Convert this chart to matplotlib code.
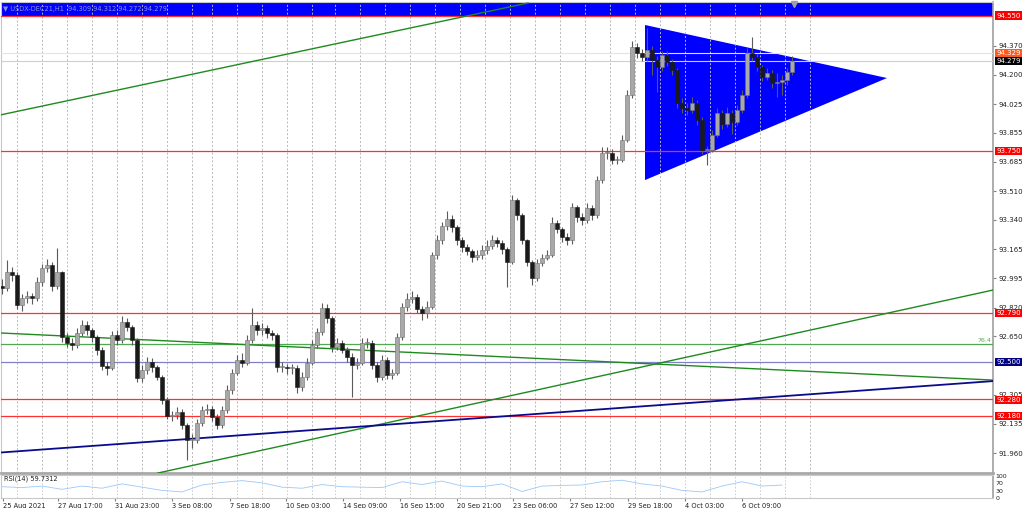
import numpy as np
import matplotlib.pyplot as plt
from matplotlib.patches import Polygon

first_open = 92.95
closes = [92.937, 93.032, 93.014, 92.836, 92.878, 92.890, 92.878, 92.973, 93.055, 93.073,
          92.949, 93.032, 92.647, 92.611, 92.600, 92.671, 92.718, 92.688, 92.647, 92.570,
          92.475, 92.463, 92.659, 92.629, 92.736, 92.706, 92.629, 92.404, 92.452, 92.499,
          92.469, 92.410, 92.274, 92.179, 92.185, 92.203, 92.126, 92.037, 92.037, 92.138,
          92.215, 92.221, 92.173, 92.126, 92.215, 92.333, 92.434, 92.511, 92.493, 92.629,
          92.718, 92.688, 92.700, 92.671, 92.659, 92.469, 92.469, 92.463, 92.463, 92.351,
          92.410, 92.493, 92.600, 92.677, 92.819, 92.759, 92.588, 92.611, 92.570, 92.529,
          92.481, 92.493, 92.611, 92.611, 92.481, 92.410, 92.511, 92.422, 92.434, 92.647,
          92.825, 92.872, 92.884, 92.813, 92.789, 92.825, 93.132, 93.221, 93.304, 93.346,
          93.298, 93.221, 93.180, 93.156, 93.121, 93.132, 93.162, 93.186, 93.221, 93.203,
          93.168, 93.091, 93.458, 93.369, 93.221, 93.091, 92.996, 93.085, 93.115, 93.132,
          93.322, 93.286, 93.239, 93.221, 93.417, 93.357, 93.340, 93.411, 93.369, 93.576,
          93.736, 93.736, 93.695, 93.695, 93.813, 94.080, 94.364, 94.328, 94.305, 94.346,
          94.287, 94.245, 94.316, 94.275, 94.228, 94.032, 94.003, 93.991, 94.032, 93.932,
          93.754, 93.754, 93.843, 93.973, 93.908, 93.973, 93.920, 93.991, 94.080, 94.328,
          94.305, 94.245, 94.186, 94.210, 94.151, 94.157, 94.168, 94.216, 94.279]
highs = [92.99, 93.103, 93.06, 93.03, 92.90, 92.92, 92.91, 93.00, 93.08, 93.11,
         93.09, 93.174, 93.04, 92.67, 92.64, 92.70, 92.75, 92.74, 92.70, 92.66,
         92.59, 92.50, 92.68, 92.69, 92.77, 92.76, 92.72, 92.64, 92.48, 92.53,
         92.52, 92.48, 92.42, 92.29, 92.21, 92.23, 92.22, 92.14, 92.07, 92.16,
         92.24, 92.25, 92.24, 92.19, 92.24, 92.36, 92.46, 92.54, 92.55, 92.66,
         92.819, 92.74, 92.73, 92.72, 92.69, 92.67, 92.50, 92.49, 92.49, 92.48,
         92.44, 92.52, 92.63, 92.70, 92.848, 92.84, 92.77, 92.64, 92.63, 92.59,
         92.55, 92.52, 92.64, 92.64, 92.63, 92.50, 92.54, 92.53, 92.46, 92.67,
         92.85, 92.91, 92.92, 92.90, 92.83, 92.86, 93.15, 93.25, 93.33, 93.39,
         93.37, 93.31, 93.24, 93.20, 93.17, 93.16, 93.19, 93.22, 93.25, 93.24,
         93.22, 93.18, 93.488, 93.47, 93.38, 93.23, 93.10, 93.11, 93.14, 93.16,
         93.357, 93.34, 93.30, 93.26, 93.44, 93.43, 93.38, 93.44, 93.43, 93.60,
         93.77, 93.77, 93.76, 93.72, 93.84, 94.11, 94.40, 94.39, 94.35, 94.476,
         94.37, 94.31, 94.34, 94.34, 94.29, 94.24, 94.06, 94.03, 94.07, 94.05,
         93.95, 93.78, 93.87, 94.00, 93.99, 94.01, 93.99, 94.02, 94.11, 94.36,
         94.423, 94.32, 94.26, 94.24, 94.23, 94.21, 94.20, 94.24, 94.312]
lows = [92.90, 92.92, 92.98, 92.81, 92.80, 92.85, 92.84, 92.86, 92.95, 93.03,
        92.92, 92.93, 92.62, 92.59, 92.57, 92.58, 92.65, 92.66, 92.62, 92.54,
        92.45, 92.42, 92.45, 92.60, 92.61, 92.68, 92.60, 92.38, 92.38, 92.43,
        92.44, 92.39, 92.25, 92.16, 92.15, 92.16, 92.10, 91.919, 91.99, 92.02,
        92.12, 92.19, 92.15, 92.10, 92.11, 92.20, 92.31, 92.42, 92.47, 92.48,
        92.61, 92.66, 92.66, 92.64, 92.63, 92.44, 92.44, 92.43, 92.43, 92.315,
        92.33, 92.39, 92.48, 92.58, 92.66, 92.73, 92.56, 92.57, 92.55, 92.50,
        92.292, 92.46, 92.48, 92.58, 92.46, 92.38, 92.39, 92.40, 92.40, 92.42,
        92.63, 92.80, 92.85, 92.79, 92.75, 92.76, 92.81, 93.11, 93.20, 93.28,
        93.27, 93.19, 93.15, 93.13, 93.09, 93.10, 93.11, 93.14, 93.17, 93.18,
        93.14, 92.943, 93.08, 93.34, 93.20, 93.07, 92.955, 92.98, 93.07, 93.10,
        93.12, 93.26, 93.21, 93.19, 93.20, 93.33, 93.31, 93.32, 93.34, 93.35,
        93.56, 93.70, 93.67, 93.67, 93.68, 93.80, 94.06, 94.30, 94.28, 94.28,
        94.20, 94.10, 94.22, 94.25, 94.20, 94.00, 93.97, 93.96, 93.97, 93.90,
        93.73, 93.665, 93.74, 93.83, 93.88, 93.89, 93.85, 93.90, 93.97, 94.06,
        94.28, 94.22, 94.16, 94.17, 94.12, 94.07, 94.08, 94.14, 94.20]
# RSI(14), one reading every 4 bars
rsi = [52, 48, 55, 40, 55, 45, 65, 50, 35, 28, 60, 72, 80, 70, 50, 45, 62, 52, 50, 48,
       75, 62, 78, 55, 52, 65, 30, 55, 58, 60, 75, 82, 65, 55, 35, 28, 55, 75, 55, 59.73]

price_ticks = [94.370, 94.200, 94.025, 93.855, 93.685, 93.510, 93.340, 93.165, 92.995,
               92.820, 92.650, 92.305, 92.135, 91.960]
date_labels = ['25 Aug 2021', '27 Aug 17:00', '31 Aug 23:00', '3 Sep 08:00', '7 Sep 18:00',
               '10 Sep 03:00', '14 Sep 09:00', '16 Sep 15:00', '20 Sep 21:00', '23 Sep 06:00',
               '27 Sep 12:00', '29 Sep 18:00', '4 Oct 03:00', '6 Oct 09:00']
date_pos = [0.2, 11.2, 22.6, 34, 45.6, 56.8, 68.2, 79.6, 91, 102.2, 113.6, 125.2, 136.6, 148]

red_levels = [94.550, 93.750, 92.790, 92.280, 92.180]
blue_level = 92.500
fib_level = 92.606
ask, bid = 94.329, 94.279
# trend lines as (bar, price) pairs
green_lines = [((-0.4, 93.961), (105.2, 94.624)),
               ((-0.4, 92.671), (198.2, 92.392)),
               ((31.2, 91.842), (198.2, 92.925))]
navy_line = ((-0.4, 91.963), (198.2, 92.386))
triangle = [(128.6, 94.494), (128.6, 93.576), (177.0, 94.180)]

fig = plt.figure(figsize=(10.24, 5.08), dpi=100)
ax = fig.add_axes([1 / 1024, 35 / 508, 992 / 1024, 471 / 508])
ax_r = fig.add_axes([1 / 1024, 10 / 508, 992 / 1024, 23 / 508])
xlim = (-0.2, 198.2)
ax.set_xlim(xlim)
ax.set_ylim(91.842, 94.630)

# background objects
ax.axhspan(94.550, 95.0, color='#0000ff', zorder=1, lw=0)
ax.add_patch(Polygon(triangle, closed=True, fc='#0000ff', ec='none', zorder=1))

# grid
grid_x = list(range(3, 39, 5)) + list(range(42, 63, 5)) + list(np.arange(66.6, 162, 5))
for gx in grid_x:
    ax.axvline(gx, color='#b8b8b8', lw=0.7, ls=(0, (2, 2)), zorder=2)

for lv in red_levels:
    ax.axhline(lv, color='#ff3030', lw=0.9, zorder=3)
ax.axhline(blue_level, color='#8080c8', lw=0.9, zorder=3)
ax.axhline(fib_level, color='#50a850', lw=0.9, zorder=3)
ax.axhline(ask, color='#ffd8d0', lw=0.8, zorder=3)
ax.axhline(bid, color='#cfcfcf', lw=0.8, zorder=3)
for (x0, y0), (x1, y1) in green_lines:
    ax.plot([x0, x1], [y0, y1], color='#1e8a1e', lw=1.0, zorder=3)
ax.plot([navy_line[0][0], navy_line[1][0]], [navy_line[0][1], navy_line[1][1]],
        color='#0a0a8c', lw=1.3, zorder=3)

# candles
n = len(closes)
x = np.arange(n)
opens = np.array([first_open] + closes[:-1])
c = np.array(closes)
bull = c >= opens
ax.vlines(x, lows, highs, color='#5a5a5a', lw=0.8, zorder=4)
body_lo = np.minimum(opens, c)
body_h = np.maximum(np.abs(c - opens), 0.006)
ax.bar(x[bull], body_h[bull], bottom=body_lo[bull], width=0.75, color='#a8a8a8',
       edgecolor='#707070', lw=0.4, zorder=5)
ax.bar(x[~bull], body_h[~bull], bottom=body_lo[~bull], width=0.75, color='#1a1a1a',
       edgecolor='#1a1a1a', lw=0.4, zorder=5)

# axes styling
ax.set_xticks([])
ax.yaxis.tick_right()
ax.set_yticks(price_ticks)
ax.set_yticklabels([f'{t:.3f}' for t in price_ticks])
ax.tick_params(axis='y', labelsize=5, length=2, pad=2, color='#808080', labelcolor='#202020')
for s in ['left', 'top']:
    ax.spines[s].set_color('#c8c8c8')
    ax.spines[s].set_linewidth(0.8)
ax.spines['right'].set_color('#a0a0a0')
ax.spines['right'].set_linewidth(1.2)
ax.spines['bottom'].set_color('#a8a8a8')
ax.spines['bottom'].set_linewidth(2)

# price tags on the right
tags = [(94.550, '#ff0000', 'white'), (93.750, '#ff0000', 'white'), (92.790, '#ff0000', 'white'),
        (92.280, '#ff0000', 'white'), (92.180, '#ff0000', 'white'), (92.500, '#000080', 'white'),
        (ask, '#ff5a1e', 'white'), (bid, '#000000', 'white')]
for p, fc, tc in tags:
    ax.annotate(f'{p:.3f}', xy=(1.0, p), xycoords=('axes fraction', 'data'),
                xytext=(2.5, -0.8 if p == 92.280 else 0), textcoords='offset points',
                ha='left', va='center', fontsize=5, color=tc, annotation_clip=False,
                zorder=10, bbox=dict(boxstyle='square,pad=0.15', fc=fc, ec='none'))
ax.annotate('76.4', xy=(1.0, fib_level), xycoords=('axes fraction', 'data'),
            xytext=(-1, 1), textcoords='offset points', ha='right', va='bottom',
            fontsize=4.5, color='#50a850')

fig.text(3 / 1024, 1 - 9 / 508, '\u25bc USDX-DEC21,H1  94.309 94.312 94.272 94.279',
         fontsize=4.8, color='#9090d8', va='center', ha='left')
ax.plot([158.4], [94.616], marker='v', color='#a0a0a0', ms=4, clip_on=False, zorder=10)

# RSI panel
ax_r.set_xlim(xlim)
ax_r.set_ylim(0, 106)
ax_r.plot(np.arange(len(rsi)) * 4, rsi, color='#9cc8f8', lw=0.6)
ax_r.text(0.003, 0.82, 'RSI(14) 59.7312', transform=ax_r.transAxes, fontsize=4.8,
          color='#202020', va='center', ha='left')
ax_r.yaxis.tick_right()
ax_r.set_yticks([0, 30, 70, 100])
ax_r.tick_params(axis='y', labelsize=4.5, length=0, pad=2, labelcolor='#202020')
ax_r.set_xticks(date_pos)
ax_r.set_xticklabels(date_labels, ha='left')
ax_r.tick_params(axis='x', labelsize=4.8, length=2, pad=1.5, color='#808080',
                 labelcolor='#202020')
for gx in grid_x:
    ax_r.axvline(gx, color='#c8c8c8', lw=0.6, ls=(0, (2, 2)), zorder=0)
for s in ['left', 'top', 'bottom']:
    ax_r.spines[s].set_color('#c8c8c8')
    ax_r.spines[s].set_linewidth(0.8)
ax_r.spines['right'].set_color('#a0a0a0')
ax_r.spines['right'].set_linewidth(1.2)

fig.savefig('out.png', dpi=100, facecolor='white')
